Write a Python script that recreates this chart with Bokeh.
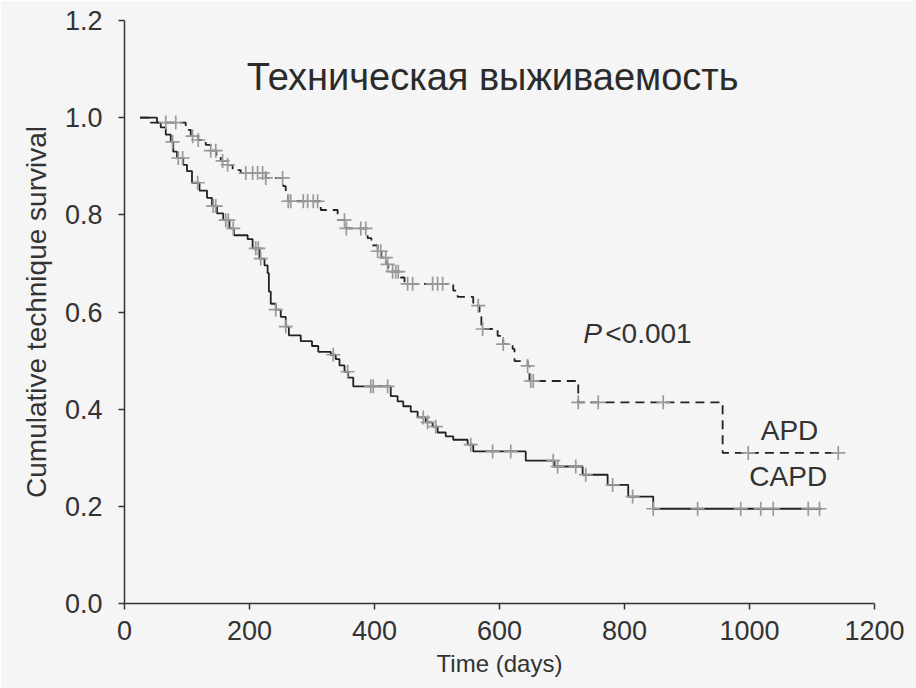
from bokeh.plotting import figure
from bokeh.models import Label, FixedTicker
from bokeh.embed import file_html
from bokeh.resources import INLINE
import numpy as np

# Kaplan-Meier technique survival: event times (days) and survival after each drop
capd_t = [25, 52, 58, 66, 74, 78, 84, 94, 100, 108, 120, 132, 140, 148, 158,
          168, 175, 197, 205, 216, 224, 229, 231, 234, 242, 250, 258, 263, 282,
          300, 310, 330, 338, 344, 352, 358, 366, 426, 437, 446, 458, 469, 482,
          493, 501, 514, 526, 549, 558, 642, 688, 733, 773, 806, 846, 1115]
capd_s = [1.0, 0.99, 0.98, 0.965, 0.95, 0.93, 0.917, 0.903, 0.89, 0.866, 0.85,
          0.835, 0.818, 0.803, 0.789, 0.772, 0.758, 0.75, 0.731, 0.71, 0.696,
          0.68, 0.642, 0.617, 0.605, 0.59, 0.57, 0.552, 0.54, 0.53, 0.518,
          0.512, 0.503, 0.49, 0.477, 0.465, 0.447, 0.427, 0.416, 0.406, 0.395,
          0.383, 0.373, 0.364, 0.352, 0.344, 0.337, 0.327, 0.313, 0.294, 0.282,
          0.265, 0.244, 0.22, 0.195, 0.195]
capd_censor = [77, 86, 93, 117, 142, 146, 162, 166, 174, 210, 214, 218, 242,
               258, 334, 357, 394, 398, 421, 478, 485, 498, 554, 589, 618, 686,
               693, 722, 738, 781, 813, 846, 917, 986, 1018, 1038, 1094, 1112]

apd_t = [25, 42, 98, 106, 118, 130, 138, 147, 154, 165, 173, 186, 226, 254,
         258, 262, 314, 341, 354, 389, 395, 405, 411, 419, 422, 442, 448, 526,
         533, 558, 568, 571, 597, 606, 621, 624, 645, 648, 726, 957, 1142]
apd_s = [1.0, 0.99, 0.975, 0.962, 0.954, 0.944, 0.932, 0.921, 0.911, 0.903,
         0.892, 0.886, 0.876, 0.859, 0.845, 0.828, 0.81, 0.789, 0.772, 0.752,
         0.737, 0.725, 0.712, 0.698, 0.683, 0.671, 0.658, 0.644, 0.631, 0.613,
         0.59, 0.565, 0.551, 0.534, 0.524, 0.499, 0.489, 0.458, 0.414, 0.31,
         0.31]
apd_censor = [66, 82, 109, 118, 138, 146, 157, 165, 194, 205, 213, 221, 226,
              253, 262, 266, 286, 293, 302, 309, 352, 355, 378, 386, 405, 410,
              418, 421, 429, 434, 438, 453, 461, 493, 501, 509, 566, 573, 606,
              645, 650, 654, 726, 758, 862, 998, 1142]

x_ticks = [0, 200, 400, 600, 800, 1000, 1200]
y_ticks = [0.0, 0.2, 0.4, 0.6, 0.8, 1.0, 1.2]

BG = "#f5f5f5"
INK = "#333333"
FONT = "Liberation Sans"


def surv_at(times, surv, t):
    idx = np.searchsorted(np.asarray(times), np.asarray(t), side="right") - 1
    return np.asarray(surv)[np.clip(idx, 0, len(surv) - 1)]


p = figure(frame_width=750, frame_height=583,
           x_range=(0, 1200), y_range=(0, 1.2),
           output_backend="svg", toolbar_location=None,
           min_border_left=124, min_border_right=42,
           min_border_top=20, min_border_bottom=85,
           background_fill_color=BG, border_fill_color=BG)
p.outline_line_color = None
p.xgrid.visible = False
p.ygrid.visible = False

# survival steps
p.step(apd_t, apd_s, mode="after", line_color="#222222", line_width=1.8,
       line_dash="9 6")
p.step(capd_t, capd_s, mode="after", line_color="#222222", line_width=1.8)

# censored observations
p.scatter(apd_censor, surv_at(apd_t, apd_s, apd_censor), marker="cross",
          size=14, line_color="#999999", line_width=1.7)
p.scatter(capd_censor, surv_at(capd_t, capd_s, capd_censor), marker="cross",
          size=14, line_color="#999999", line_width=1.7)

# axes
p.xaxis.ticker = FixedTicker(ticks=x_ticks)
p.yaxis.ticker = FixedTicker(ticks=y_ticks)
p.xaxis.major_label_overrides = {t: str(t) for t in x_ticks}
p.yaxis.major_label_overrides = {t: f"{t:.1f}" for t in y_ticks}
p.xaxis.axis_label = "Time (days)"
p.yaxis.axis_label = "Cumulative technique survival"
for ax in (p.xaxis, p.yaxis):
    ax.axis_line_color = INK
    ax.axis_line_width = 1.5
    ax.major_tick_line_color = INK
    ax.major_tick_line_width = 1.5
    ax.major_tick_out = 6
    ax.major_tick_in = 0
    ax.minor_tick_line_color = None
    ax.major_label_text_font = FONT
    ax.major_label_text_color = INK
    ax.major_label_text_font_size = "27px"
    ax.axis_label_text_font = FONT
    ax.axis_label_text_color = INK
    ax.axis_label_text_font_style = "normal"
p.xaxis.axis_label_text_font_size = "24px"
p.yaxis.axis_label_text_font_size = "28px"
p.xaxis.major_label_standoff = 11
p.yaxis.major_label_standoff = 16
p.xaxis.axis_label_standoff = 7
p.yaxis.axis_label_standoff = 10

# annotations
p.add_layout(Label(x=589, y=1.083, text="Техническая выживаемость",
                   text_font=FONT, text_font_size="38px", text_color="#2b2b2b",
                   text_align="center", text_baseline="middle"))
p.add_layout(Label(x=734, y=0.555, text="P", text_font=FONT,
                   text_font_size="28px", text_font_style="italic",
                   text_color=INK, text_align="left", text_baseline="middle"))
p.add_layout(Label(x=734, y=0.555, x_offset=22, text="<0.001", text_font=FONT,
                   text_font_size="28px", text_color=INK, text_align="left",
                   text_baseline="middle"))
p.add_layout(Label(x=1064, y=0.356, text="APD", text_font=FONT,
                   text_font_size="28px", text_color=INK, text_align="center",
                   text_baseline="middle"))
p.add_layout(Label(x=1062, y=0.261, text="CAPD", text_font=FONT,
                   text_font_size="28px", text_color=INK, text_align="center",
                   text_baseline="middle"))

open("out.html", "w").write(file_html(p, INLINE))
